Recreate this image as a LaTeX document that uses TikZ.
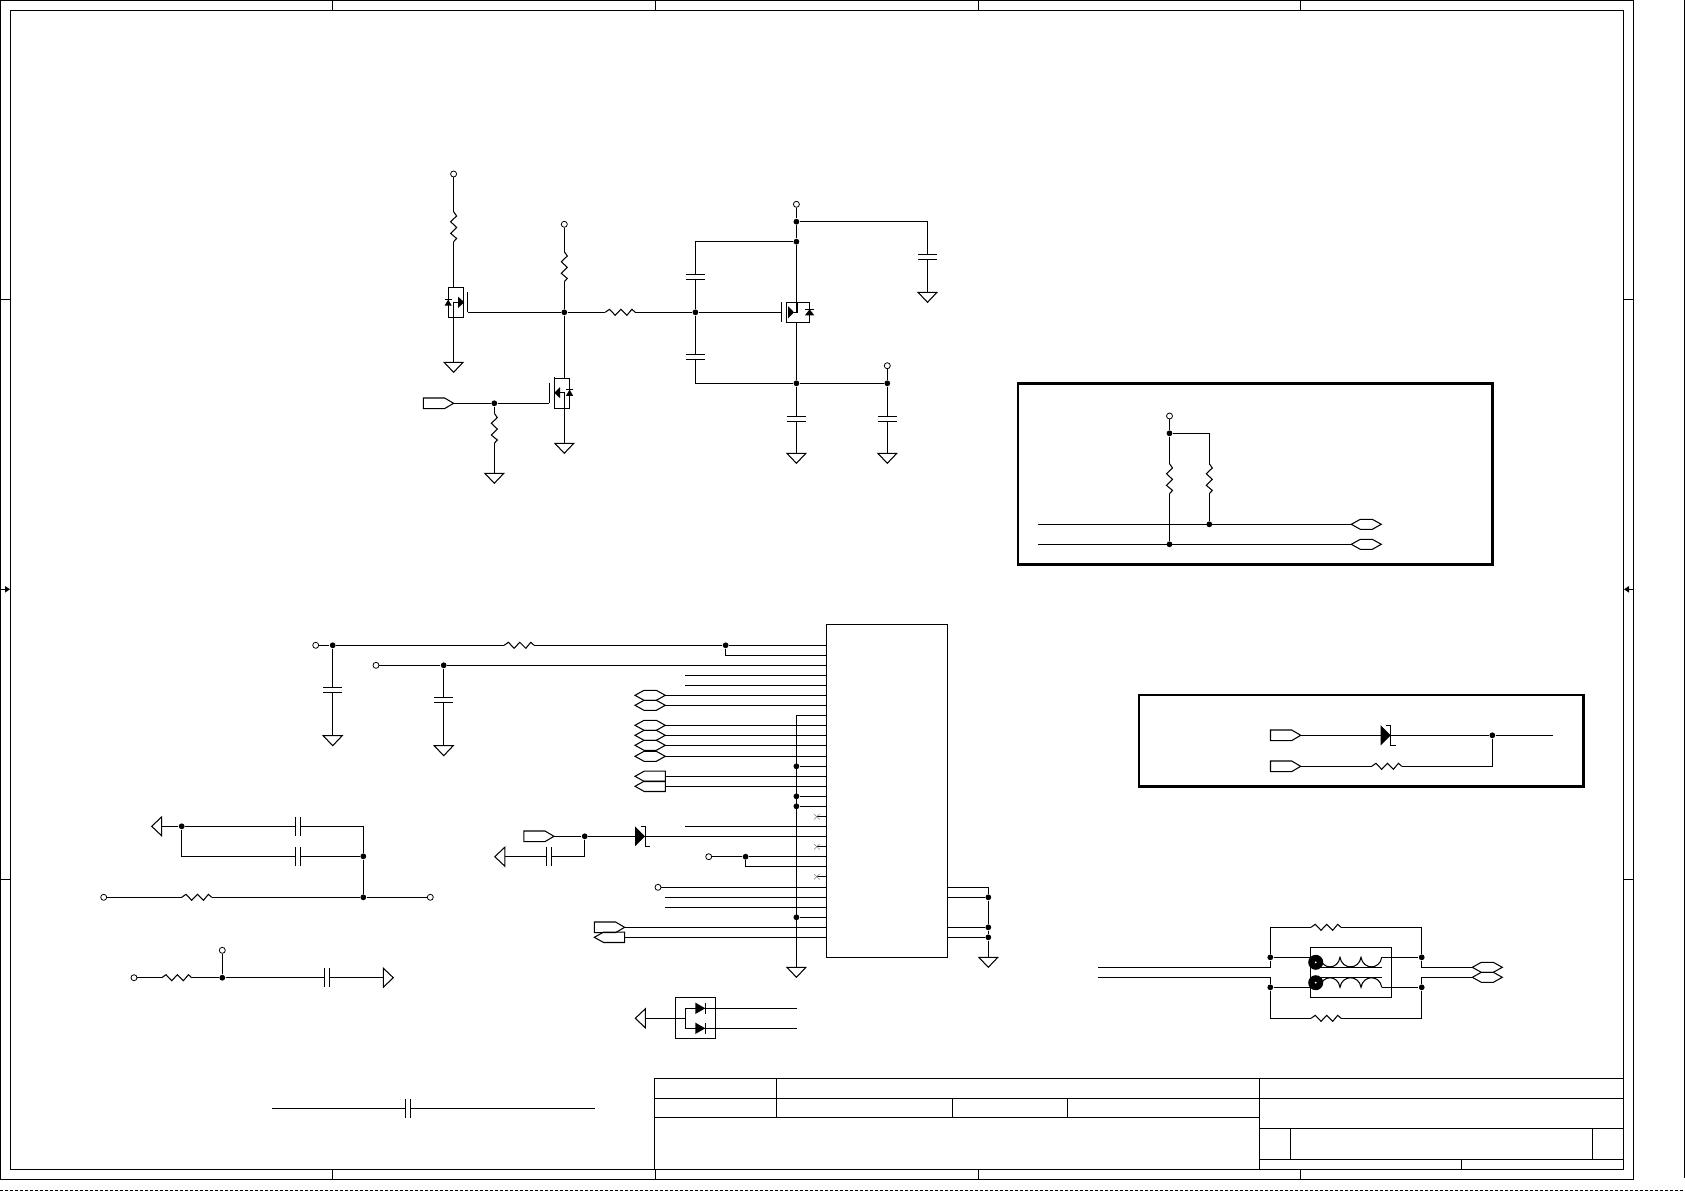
\documentclass[tikz,border=0pt]{standalone}
\begin{document}
\begin{tikzpicture}[x=1pt,y=-1pt,line width=1.05pt,line join=miter]
\tikzset{
 dotn/.style={circle,fill=black,inner sep=0pt,minimum size=5.8pt},
 termn/.style={circle,draw,fill=white,inner sep=0pt,minimum size=6pt,line width=.8pt},
 heavy/.style={line width=2.7pt},
 frameline/.style={line width=1.05pt},
 pics/res/.style={code={
   \fill[white] (0,-.8) rectangle (30,.8);
   \draw (0,0)--(4.3,-3)--(10,3)--(15.7,-3)--(21.7,3)--(26.7,-3)--(30,0);}},
 pics/capa/.style={code={
   \fill[white] (-1,-2) rectangle (1,2);
   \draw (-9.5,-2.5)--(9.5,-2.5) (-9.5,2.5)--(9.5,2.5);}},
 pics/gnd/.style={code={\draw (-9.5,0)--(9.5,0)--(0,10)--cycle;}},
 pics/schottky/.style={code={
   \fill (0,-10)--(0,10)--(10,0)--cycle;
   \draw[line width=.8pt] (5.7,-10)--(10,-10)--(10,10)--(15.3,10);}},
 pics/smalld/.style={code={
   \fill (0,-5.7)--(0,5.7)--(10,0)--cycle;
   \draw (10.3,-5.7)--(10.3,5.7);}},
 pics/hex/.style={code={\draw (0,0)--(-9,-5)--(-#1+9,-5)--(-#1,0)--(-#1+9,5)--(-9,5)--cycle;}},
 pics/tagout/.style={code={\draw (0,0)--(-9,-5.3)--(-30.2,-5.3)--(-30.2,5.3)--(-9,5.3)--cycle;}},
 pics/tagin/.style={code={\draw (0,-5.2)--(-21,-5.2)--(-30.3,0)--(-21,5.2)--(0,5.2)--cycle;}},
 pics/nc/.style={code={\draw[gray,line width=.5pt] (-2.8,-2.7)--(2.8,2.7) (-2.8,2.7)--(2.8,-2.7);}},
}
\useasboundingbox (0,0) rectangle (1685,1191);
% ---------- sheet frame
\draw[frameline] (0.5,0.5) rectangle (1633.3,1179.3);
\draw[frameline] (10.5,10.5) rectangle (1623.3,1169.3);
\draw[frameline] (1684.3,0)--(1684.3,1178);
\draw[dash pattern=on 3pt off 2pt] (0,1190.5)--(1685,1190.5);
\foreach \tx in {332.3,655.2,978.5,1300.6}{
  \draw (\tx,0.5)--(\tx,10.5) (\tx,1169.3)--(\tx,1179.3);}
\foreach \ty in {299.8,879.3}{
  \draw (0.5,\ty)--(10.5,\ty) (1623.3,\ty)--(1633.3,\ty);}
\draw (0.5,589.3)--(5,589.3) (1629,589.3)--(1633.3,589.3);
\fill (5,586)--(5,592.6)--(10,589.3)--cycle;
\fill (1629,586)--(1629,592.6)--(1624,589.3)--cycle;
% ---------- title block
\draw (654.5,1078.3)--(1623.3,1078.3) (654.5,1098.3)--(1623.3,1098.3)
      (654.5,1117.3)--(1259.8,1117.3)
      (1259.8,1128.3)--(1623.3,1128.3) (1259.8,1159.3)--(1623.3,1159.3)
      (654.5,1078.3)--(654.5,1169.3) (776.3,1078.3)--(776.3,1117.3)
      (952.5,1098.3)--(952.5,1117.3) (1067.6,1098.3)--(1067.6,1117.3)
      (1259.8,1078.3)--(1259.8,1169.3) (1290.6,1128.3)--(1290.6,1159.3)
      (1592.7,1128.3)--(1592.7,1159.3) (1461.3,1159.3)--(1461.3,1169.3);
% ---------- switching section: nodes
\node[termn] (t1) at (453.6,174) {};
\node[termn] (t2) at (564.3,224.3) {};
\node[termn] (t3) at (796.4,204.3) {};
\node[termn] (t4) at (887.3,365.7) {};
\node[dotn] (dg) at (564.3,312.3) {};
\node[dotn] (dc) at (695.4,312.3) {};
\node[dotn] (d3a) at (796.4,221.7) {};
\node[dotn] (d3b) at (796.4,241.7) {};
\node[dotn] (d4a) at (796.4,383.3) {};
\node[dotn] (d4b) at (887.3,383.3) {};
\node[dotn] (dgin) at (494.3,403.3) {};
\coordinate (q1d) at (453.6,287.3);
\coordinate (q1s) at (453.6,317.7);
\coordinate (q1g) at (467.9,312.3);
\coordinate (q1gnd) at (453.6,362.3);
\coordinate (q2d) at (564.3,378.3);
\coordinate (q2s) at (564.3,408.3);
\coordinate (q2g) at (549.3,403.3);
\coordinate (q2gnd) at (564.3,443.3);
\coordinate (q3d) at (796.4,302.3);
\coordinate (q3s) at (796.4,322.3);
\coordinate (q3g) at (781.4,312.3);
\coordinate (c0t) at (695.4,241.7);
\coordinate (c1b) at (695.4,383.3);
\coordinate (c2t) at (927.5,221.7);
\coordinate (g2) at (927.5,292.3);
\coordinate (g3) at (796.4,453.3);
\coordinate (g4) at (887.3,453.3);
\coordinate (tg1) at (453.6,403.3);
\coordinate (g5) at (494.3,473.3);
% wires
\draw (t1)--(q1d) (q1s)--(q1gnd);
\draw (t2)--(dg)--(q2d) (q2s)--(q2gnd);
\draw (q1g)--(dg)--(dc)--(q3g);
\draw (t3)--(d3a)--(d3b)--(q3d) (q3s)--(d4a)--(g3);
\draw (d3a)--(c2t)--(g2);
\draw (d3b)--(c0t)--(dc)--(c1b)--(d4a)--(d4b)--(g4);
\draw (t4)--(d4b);
\draw (tg1)--(dgin)--(q2g);
\draw (dgin)--(g5);
% components
\pic[rotate=-90] at (453.6,211.7) {res};
\pic[rotate=-90] at (564.3,251.7) {res};
\pic[rotate=-90] at (494.3,413.3) {res};
\pic at (605.2,312.3) {res};
\pic at (695.4,276.8) {capa};
\pic at (695.4,356.8) {capa};
\pic at (927.5,256.8) {capa};
\pic at (796.4,419) {capa};
\pic at (887.3,419) {capa};
\pic at (q1gnd) {gnd};
\pic at (q2gnd) {gnd};
\pic at (g2) {gnd};
\pic at (g3) {gnd};
\pic at (g4) {gnd};
\pic at (g5) {gnd};
\pic at (tg1) {tagout};
% MOSFET upper left
\draw (467.9,291.7)--(467.9,312.3);
\draw (463.2,286.7)--(463.2,317.7);
\draw (463.2,287.3)--(448.2,287.3)--(448.2,317.7)--(463.2,317.7);
\draw (q1s)--(453.6,302.3)--(458.2,302.3);
\fill (458.2,296.8)--(458.2,307.8)--(464.3,302.3)--cycle;
\fill (444.6,305.6)--(451.8,305.6)--(448.2,299.6)--cycle;
\draw[line width=.7pt] (444.6,299.8)--(451.8,299.8);
% MOSFET lower
\draw (549.3,382.7)--(549.3,403.3);
\draw (554.3,377.3)--(554.3,408.3);
\draw (554.3,378.3)--(569.6,378.3)--(569.6,408.3)--(554.3,408.3);
\draw (q2s)--(564.3,392.7)--(560,392.7);
\fill (560,387.2)--(560,398.2)--(554.3,392.7)--cycle;
\fill (566,395.8)--(573.2,395.8)--(569.6,389.5)--cycle;
\draw[line width=.7pt] (566,389.5)--(573.2,389.5);
% MOSFET main
\draw (781.4,302.3)--(781.4,322.3);
\draw (786.8,302.3) rectangle (809.6,322.3);
\draw (797,302.3)--(797,312.3)--(794,312.3);
\fill (788.2,306.3)--(788.2,318.3)--(794,312.3)--cycle;
\fill (805,315.3)--(814.3,315.3)--(809.6,309.3)--cycle;
\draw[line width=.7pt] (805,309.3)--(814.3,309.3);
% ---------- pull-up box
\draw[heavy] (1018,383.3) rectangle (1492.5,564.3);
\node[termn] (t5) at (1169.5,416) {};
\node[dotn] (d5a) at (1169.5,433.3) {};
\node[dotn] (d5b) at (1209.3,524.3) {};
\node[dotn] (d5c) at (1169.5,544.3) {};
\coordinate (c5) at (1209.3,433.3);
\coordinate (w5a) at (1037.9,524.3);
\coordinate (w5b) at (1037.9,544.3);
\coordinate (h5a) at (1351.3,524.3);
\coordinate (h5b) at (1351.3,544.3);
\draw (t5)--(d5a)--(d5c);
\draw (d5a)--(c5)--(d5b);
\draw (w5a)--(h5a) (w5b)--(h5b);
\pic[rotate=-90] at (1169.5,463.7) {res};
\pic[rotate=-90] at (1209.3,463.7) {res};
\pic[rotate=180] at (h5a) {hex=30};
\pic[rotate=180] at (h5b) {hex=30};
% ---------- diode box
\draw[heavy] (1139,695) rectangle (1583.3,786.7);
\coordinate (tg6a) at (1300.7,735.3);
\coordinate (tg6b) at (1300.7,766.3);
\node[dotn] (d6) at (1492.3,735.3) {};
\coordinate (e6) at (1552.7,735.3);
\coordinate (c6) at (1492.3,766.3);
\draw (tg6a)--(d6)--(e6);
\draw (d6)--(c6)--(tg6b);
\pic at (tg6a) {tagout};
\pic at (tg6b) {tagout};
\pic at (1380.7,735.3) {schottky};
\pic at (1371.7,766.3) {res};
% ---------- connector IC
\node[draw,minimum width=120.9pt,minimum height=333pt,inner sep=0pt,anchor=north west] (ic) at (826.4,624.3) {};
\foreach \i/\py in {0/645.3,1/655.3,2/665.3,3/675.3,4/685.3,5/695.3,6/705.3,7/715.3,8/725.3,9/735.3,
  10/745.3,11/756.3,12/766.3,13/776.3,14/786.3,15/796.3,16/806.3,17/816.7,18/826.3,19/836.3,
  20/846.7,21/856.7,22/866.7,23/876.7,24/887.3,25/897.3,26/907.3,27/917.3,28/927.3,29/937.3}{
  \coordinate (p\i) at (826.4,\py);}
\foreach \i/\py in {24/887.3,25/897.3,28/927.3,29/937.3}{
  \coordinate (r\i) at (947.3,\py);}
% left side nets
\node[termn] (t7) at (315.7,645.3) {};
\node[dotn] (d7a) at (332.7,645.3) {};
\node[dotn] (d7b) at (725.6,645.3) {};
\node[termn] (t8) at (376,665.3) {};
\node[dotn] (d8) at (443.7,665.3) {};
\coordinate (g7) at (332.7,735.7);
\coordinate (g8) at (443.7,745.7);
\draw (t7)--(d7a)--(d7b)--(p0);
\draw (d7b)|-(p1);
\draw (t8)--(d8)--(p2);
\draw (d7a)--(g7) (d8)--(g8);
\pic at (504.1,645.3) {res};
\pic at (332.7,690) {capa};
\pic at (443.7,699.8) {capa};
\pic at (g7) {gnd};
\pic at (g8) {gnd};
% free-ended pins
\foreach \i/\ex in {3/684.9,4/684.9,18/684.9,25/665.3,26/665.3}{
  \coordinate (e\i) at (\ex,0 |- p\i);
  \draw (p\i)--(e\i);}
% tagged pins
\foreach \i in {5,6,8,9,10,11}{
  \coordinate (e\i) at (665.3,0 |- p\i);
  \draw (p\i)--(e\i);
  \pic at (e\i) {hex=30.3};}
\foreach \i in {13,14}{
  \coordinate (e\i) at (665.3,0 |- p\i);
  \draw (p\i)--(e\i);
  \pic at (e\i) {tagin};}
% ground rail
\coordinate (railt) at (796.4,715.3);
\coordinate (railg) at (796.4,967.3);
\draw (p7)--(railt)--(railg);
\pic at (railg) {gnd};
\foreach \i in {12,15,16,27}{
  \node[dotn] (dr\i) at (796.4,0 |- p\i) {};
  \draw (dr\i)--(p\i);}
% not connected pins
\foreach \i in {17,20,23}{
  \coordinate (x\i) at (816.8,0 |- p\i);
  \draw (x\i)--(p\i);
  \pic at (x\i) {nc};}
% schottky input
\coordinate (tg9) at (554,836.3);
\node[dotn] (d9) at (584.7,836.3) {};
\coordinate (c9) at (584.7,856.7);
\coordinate (g9) at (504.8,856.7);
\draw (tg9)--(d9)--(p19);
\draw (d9)--(c9)--(g9);
\pic at (tg9) {tagout};
\pic at (635,836.3) {schottky};
\pic[rotate=90] at (549,856.7) {capa};
\pic[rotate=-90] at (g9) {gnd};
% terminals on pins
\node[termn] (t10) at (708.7,856.7) {};
\node[dotn] (d10) at (745.6,856.7) {};
\draw (t10)--(d10)--(p21);
\draw (d10)|-(p22);
\node[termn] (t11) at (658,887.3) {};
\draw (t11)--(p24);
\coordinate (tg12) at (624.6,927.3);
\coordinate (tg13) at (624.6,937.3);
\draw (tg12)--(p28) (tg13)--(p29);
\pic at (tg12) {tagout};
\pic at (tg13) {tagin};
% right side of IC
\coordinate (rc) at (988.3,887.3);
\node[dotn] (dr1) at (988.3,897.3) {};
\node[dotn] (dr2) at (988.3,927.3) {};
\node[dotn] (dr3) at (988.3,937.3) {};
\coordinate (gr) at (988.3,957.3);
\draw (r24)--(rc)--(dr1)--(dr2)--(dr3)--(gr);
\draw (r25)--(dr1) (r28)--(dr2) (r29)--(dr3);
\pic at (gr) {gnd};
% ---------- left lower RC networks
\coordinate (g14) at (161.7,826.3);
\node[dotn] (d14) at (181.7,826.3) {};
\coordinate (c14a) at (181.7,856.3);
\coordinate (c14b) at (363.3,826.3);
\node[dotn] (d14b) at (363.3,856.3) {};
\node[dotn] (d14c) at (363.3,897.3) {};
\node[termn] (t14a) at (103.7,897.3) {};
\node[termn] (t14b) at (430.3,897.3) {};
\draw (g14)--(d14)--(c14b)--(d14b)--(d14c);
\draw (d14)--(c14a)--(d14b);
\draw (t14a)--(d14c)--(t14b);
\pic[rotate=-90] at (g14) {gnd};
\pic[rotate=90] at (298,826.3) {capa};
\pic[rotate=90] at (298,856.3) {capa};
\pic at (181.7,897.3) {res};
\node[termn] (t15a) at (134,977.7) {};
\node[dotn] (d15) at (222.3,977.7) {};
\node[termn] (t15b) at (222.3,950.3) {};
\coordinate (g15) at (383.3,977.7);
\draw (t15a)--(d15)--(g15);
\draw (t15b)--(d15);
\pic at (161.7,977.7) {res};
\pic[rotate=90] at (327,977.7) {capa};
\pic[rotate=90] at (g15) {gnd};
% ---------- dual diode
\draw (675.3,997.3) rectangle (715.7,1038.7);
\coordinate (g16) at (645.3,1018.3);
\coordinate (j16) at (685.3,1018.3);
\coordinate (a16) at (685.3,1008.3);
\coordinate (b16) at (685.3,1028.3);
\coordinate (ea16) at (797.3,1008.3);
\coordinate (eb16) at (797.3,1028.3);
\draw (g16)--(j16);
\draw (ea16)--(a16)--(b16)--(eb16);
\pic[rotate=-90] at (g16) {gnd};
\pic at (695.3,1008.3) {smalld};
\pic at (695.3,1028.3) {smalld};
% ---------- lone capacitor
\coordinate (e17a) at (272,1108.3);
\coordinate (e17b) at (594.9,1108.3);
\draw (e17a)--(e17b);
\pic[rotate=90] at (408,1108.3) {capa};
% ---------- common mode choke
\coordinate (w18a) at (1098.3,967.3);
\coordinate (w18b) at (1098.3,977.3);
\coordinate (c18a) at (1270.3,967.3);
\coordinate (c18b) at (1270.3,977.3);
\node[dotn] (d18a) at (1270.3,957.3) {};
\node[dotn] (d18b) at (1270.3,987.3) {};
\coordinate (c18c) at (1270.3,927.3);
\coordinate (c18d) at (1270.3,1018.3);
\coordinate (c18e) at (1421.7,927.3);
\coordinate (c18f) at (1421.7,1018.3);
\node[dotn] (d18c) at (1421.7,957.3) {};
\node[dotn] (d18d) at (1421.7,987.3) {};
\coordinate (c18g) at (1421.7,967.3);
\coordinate (c18h) at (1421.7,977.3);
\coordinate (h18a) at (1472.3,967.3);
\coordinate (h18b) at (1472.3,977.3);
\coordinate (l18a) at (1310.3,957.3);
\coordinate (l18b) at (1310.3,987.3);
\coordinate (l18c) at (1381.7,957.3);
\coordinate (l18d) at (1381.7,987.3);
\draw (w18a)--(c18a)--(d18a)--(c18c)--(c18e)--(d18c)--(c18g)--(h18a);
\draw (w18b)--(c18b)--(d18b)--(c18d)--(c18f)--(d18d)--(c18h)--(h18b);
\draw (d18a)--(l18a) (d18b)--(l18b) (l18c)--(d18c) (l18d)--(d18d);
\pic at (1311,927.3) {res};
\pic at (1311,1018.3) {res};
\pic[rotate=180] at (h18a) {hex=30};
\pic[rotate=180] at (h18b) {hex=30};
\draw (1310.3,947.3) rectangle (1391.7,997.3);
\draw (1320,967.4)--(1381.7,967.4) (1320,977.3)--(1381.7,977.3);
\draw (1320,957.3) .. controls (1322,970) and (1338,970) .. (1340,957.3)
      .. controls (1342,970) and (1359,970) .. (1361,957.3)
      .. controls (1363,970) and (1380,970) .. (1381.7,957.3);
\draw (1320,987.3) .. controls (1322,974.6) and (1338,974.6) .. (1340,987.3)
      .. controls (1342,974.6) and (1359,974.6) .. (1361,987.3)
      .. controls (1363,974.6) and (1380,974.6) .. (1381.7,987.3);
\foreach \ty in {962.3,982.7}{
  \fill (1315.7,\ty) circle (7.5pt);
  \fill[white] (1315.7,\ty) circle (1pt);}
\end{tikzpicture}
\end{document}
